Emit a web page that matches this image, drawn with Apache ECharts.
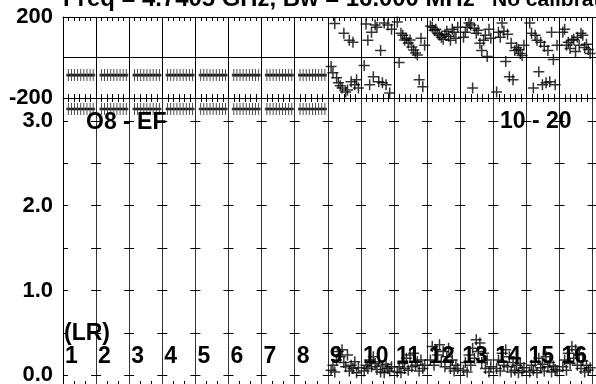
<!DOCTYPE html>
<html><head><meta charset="utf-8">
<script src="https://cdn.jsdelivr.net/npm/echarts@6/dist/echarts.min.js"></script>
<style>html,body{margin:0;padding:0;background:#fff}#c{width:596px;height:384px}</style>
</head><body><div id="c"></div>
<script>
// ---------- texts ----------
const titleMain = 'Freq = 4.7405 GHz, Bw = 16.000 MHz';
const titleNote = 'No calibration';
const sourceLabel = 'O8 - EF';
const timeLabel = '10 - 20';
const polLabel = '(LR)';
const baselineLabels = ['1','2','3','4','5','6','7','8','9','10','11','12','13','14','15','16'];
const phaseLabelValues = [-200, 200];
const ampLabelValues = [0, 1, 2, 3];
const ampTickValues = [0, 0.5, 1, 1.5, 2, 2.5, 3];

// ---------- data: baselines 1-8 (9 channels each) ----------
const phaseFlat = [
  [-87,-87,-87,-87,-87,-87,-87,-87,-87],
  [-87,-87,-87,-87,-87,-87,-87,-87,-87],
  [-87,-87,-87,-87,-87,-87,-87,-87,-87],
  [-87,-87,-87,-87,-87,-87,-87,-87,-87],
  [-87,-87,-87,-87,-87,-87,-87,-87,-87],
  [-87,-87,-87,-87,-87,-87,-87,-87,-87],
  [-87,-87,-87,-87,-87,-87,-87,-87,-87],
  [-87,-87,-87,-87,-87,-87,-87,-87,-87]
];
const ampFlat = [
  [3.14,3.14,3.14,3.14,3.14,3.14,3.14,3.14,3.14],
  [3.14,3.14,3.14,3.14,3.14,3.14,3.14,3.14,3.14],
  [3.14,3.14,3.14,3.14,3.14,3.14,3.14,3.14,3.14],
  [3.14,3.14,3.14,3.14,3.14,3.14,3.14,3.14,3.14],
  [3.14,3.14,3.14,3.14,3.14,3.14,3.14,3.14,3.14],
  [3.14,3.14,3.14,3.14,3.14,3.14,3.14,3.14,3.14],
  [3.14,3.14,3.14,3.14,3.14,3.14,3.14,3.14,3.14],
  [3.14,3.14,3.14,3.14,3.14,3.14,3.14,3.14,3.14]
];
// ---------- data: baselines 9-16 (16 channels each) ----------
const phaseNoisy = [
  [-45,-75,168,-100,-125,-140,-150,120,-170,-160,85,-120,75,-135,-110,-150],
  [-40,165,85,-135,125,-95,160,150,-120,35,-125,170,-135,160,-175,140],
  [175,-25,120,110,86,95,72,86,52,37,22,12,-110,95,-145,60],
  [155,150,135,140,120,110,100,90,115,130,105,85,140,125,95,150],
  [100,125,150,170,160,-150,145,120,135,70,35,85,110,5,140,95],
  [-170,125,100,170,130,-20,115,-95,70,-110,35,50,40,20,10,60],
  [170,120,-150,110,85,-70,75,-135,55,-125,35,-120,125,-10,-135,60],
  [125,140,60,75,45,85,90,30,100,60,120,110,50,65,40,20]
];
const ampNoisy = [
  [0.06,0.12,0.04,0.18,0.28,0.22,0.30,0.15,0.10,0.24,0.05,0.12,0.08,0.16,0.03,0.09],
  [0.05,0.12,0.08,0.18,0.10,0.22,0.14,0.07,0.16,0.04,0.11,0.03,0.13,0.08,0.05,0.10],
  [0.04,0.10,0.03,0.14,0.08,0.20,0.06,0.24,0.10,0.26,0.12,0.16,0.05,0.18,0.08,0.12],
  [0.18,0.34,0.12,0.30,0.24,0.36,0.16,0.28,0.10,0.22,0.32,0.08,0.18,0.05,0.12,0.08],
  [0.06,0.15,0.04,0.24,0.12,0.32,0.20,0.42,0.28,0.38,0.15,0.26,0.08,0.18,0.04,0.10],
  [0.08,0.18,0.05,0.26,0.12,0.30,0.10,0.22,0.04,0.15,0.06,0.12,0.03,0.14,0.05,0.09],
  [0.04,0.12,0.06,0.16,0.03,0.20,0.09,0.13,0.05,0.22,0.10,0.15,0.04,0.11,0.07,0.05],
  [0.10,0.18,0.06,0.26,0.14,0.34,0.20,0.30,0.12,0.24,0.08,0.17,0.04,0.12,0.06,0.09]
];

// ---------- layout ----------
const COLW = 33.1, NCOL = 17, SLOT = 10;
const LEFT = 63;
const AMP_MIN = -0.126, AMP_MAX = 3.27;
const FONT = '"Liberation Sans", Arial, Helvetica, sans-serif';
const chart = echarts.init(document.getElementById('c'), null, {renderer:'canvas'});

function flatPoints(arr, b0) {
  const out = [];
  arr.forEach((row, i) => row.forEach((v, j) => out.push([(b0 + i) * SLOT + 1.6 + 0.94 * j, v])));
  return out;
}
function noisyPoints(arr, b0) {
  const out = [];
  arr.forEach((row, i) => row.forEach((v, j) => out.push([(b0 + i) * SLOT + 1.0 + 0.55 * j, v])));
  return out;
}

const xBase = {type:'value', min:0, max:NCOL*SLOT, interval:SLOT,
  axisLabel:{show:false}, axisTick:{show:false}, splitLine:{show:false}};
const minor = (n, len) => ({show:true, splitNumber:n, length:len, lineStyle:{color:'#000', width:1}});

const xAxes = [
  Object.assign({}, xBase, {gridIndex:0, position:'top', axisLine:{show:true, onZero:false, lineStyle:{color:'#000'}},
    axisTick:{show:false, inside:true}, minorTick:minor(6,4), splitLine:{show:true, lineStyle:{color:'#000', width:1}}}),
  Object.assign({}, xBase, {gridIndex:0, position:'bottom', axisLine:{show:true, onZero:false, lineStyle:{color:'#000'}},
    axisTick:{show:false, inside:true}, minorTick:minor(6,4)}),
  Object.assign({}, xBase, {gridIndex:1, position:'top', axisLine:{show:false, onZero:false},
    axisTick:{show:false, inside:true}, minorTick:minor(6,4)}),
  Object.assign({}, xBase, {gridIndex:1, position:'bottom', axisLine:{show:true, onZero:false, lineStyle:{color:'#000'}},
    axisTick:{show:false, inside:true}, minorTick:minor(3,5), splitLine:{show:true, lineStyle:{color:'#333', width:1}}}),
  Object.assign({}, xBase, {gridIndex:1, position:'bottom', axisLine:{show:false, onZero:false},
    axisLabel:{show:true, inside:true, margin:29, align:'left', verticalAlign:'middle', padding:[0,0,0,2],
      color:'#000', fontSize:23, fontWeight:'bold', fontFamily:FONT,
      formatter: v => { const i = Math.round(v / SLOT); return i < baselineLabels.length ? baselineLabels[i] : ''; }}})
];

const yAxes = [
  {gridIndex:0, type:'value', position:'left', min:-200, max:200, interval:200,
    axisLine:{show:true, onZero:false, lineStyle:{color:'#000'}}, axisTick:{show:false},
    axisLabel:{show:true, margin:10, color:'#000', fontSize:22, fontWeight:'bold', fontFamily:FONT,
      customValues: phaseLabelValues, formatter: v => String(v)},
    splitLine:{show:true, lineStyle:{color:'#000', width:1}}},
  {gridIndex:1, type:'value', position:'left', min:AMP_MIN, max:AMP_MAX,
    axisLine:{show:true, onZero:false, lineStyle:{color:'#000'}},
    axisTick:{show:true, inside:true, length:5, customValues: ampTickValues, lineStyle:{color:'#000'}},
    axisLabel:{show:true, margin:10, color:'#000', fontSize:22, fontWeight:'bold', fontFamily:FONT,
      customValues: ampLabelValues, formatter: v => v.toFixed(1)},
    splitLine:{show:false}}
];
for (let k = 1; k < NCOL; k++) {
  yAxes.push({gridIndex:1, type:'value', position:'left', offset: -(COLW * k + 5), min:AMP_MIN, max:AMP_MAX,
    axisLine:{show:false, onZero:false},
    axisTick:{show:true, inside:false, length:10, customValues: ampTickValues, lineStyle:{color:'#000'}},
    axisLabel:{show:false}, splitLine:{show:false}});
}

const plusSym = 'path://M5,0V10M0,5H10';
const barSym = 'path://M2,0V12M0,6H4';
const markStyle = {color:'transparent', borderColor:'#000', borderWidth:1.5};

const option = {
  animation:false,
  backgroundColor:'#fff',
  grid:[
    {left:LEFT, top:17, width:COLW*NCOL, height:81, outerBoundsMode:'none', containLabel:false},
    {left:LEFT, top:98, width:COLW*NCOL, height:288, outerBoundsMode:'none', containLabel:false}
  ],
  xAxis: xAxes,
  yAxis: yAxes,
  series:[
    {type:'scatter', xAxisIndex:0, yAxisIndex:0, data:flatPoints(phaseFlat,0), symbol:barSym, symbolSize:[4,12],
      itemStyle:markStyle, silent:true, clip:false},
    {type:'scatter', xAxisIndex:0, yAxisIndex:0, data:noisyPoints(phaseNoisy,8), symbol:plusSym, symbolSize:11,
      itemStyle:markStyle, silent:true, clip:false},
    {type:'scatter', xAxisIndex:3, yAxisIndex:1, data:flatPoints(ampFlat,0), symbol:barSym, symbolSize:[4,12],
      itemStyle:markStyle, silent:true, clip:false},
    {type:'scatter', xAxisIndex:3, yAxisIndex:1, data:noisyPoints(ampNoisy,8), symbol:plusSym, symbolSize:11,
      itemStyle:markStyle, silent:true, clip:false}
  ],
  graphic:[
    {type:'text', x:63, y:-0.5, z:100, style:{text:titleMain, font:'bold 23.9px ' + FONT, fill:'#000', verticalAlign:'middle', textVerticalAlign:'middle'}},
    {type:'text', x:492, y:0.5, z:100, style:{text:titleNote, font:'bold 21px ' + FONT, fill:'#000', verticalAlign:'middle', textVerticalAlign:'middle'}},
    {type:'text', x:86, y:123, z:100, style:{text:sourceLabel, font:'bold 23px ' + FONT, fill:'#000', verticalAlign:'middle', textVerticalAlign:'middle'}},
    {type:'text', x:500, y:122, z:100, style:{text:timeLabel, font:'bold 23px ' + FONT, fill:'#000', verticalAlign:'middle', textVerticalAlign:'middle'}},
    {type:'text', x:64, y:334, z:100, style:{text:polLabel, font:'bold 23px ' + FONT, fill:'#000', verticalAlign:'middle', textVerticalAlign:'middle'}}
  ]
};
chart.setOption(option);
</script>
</body></html>
